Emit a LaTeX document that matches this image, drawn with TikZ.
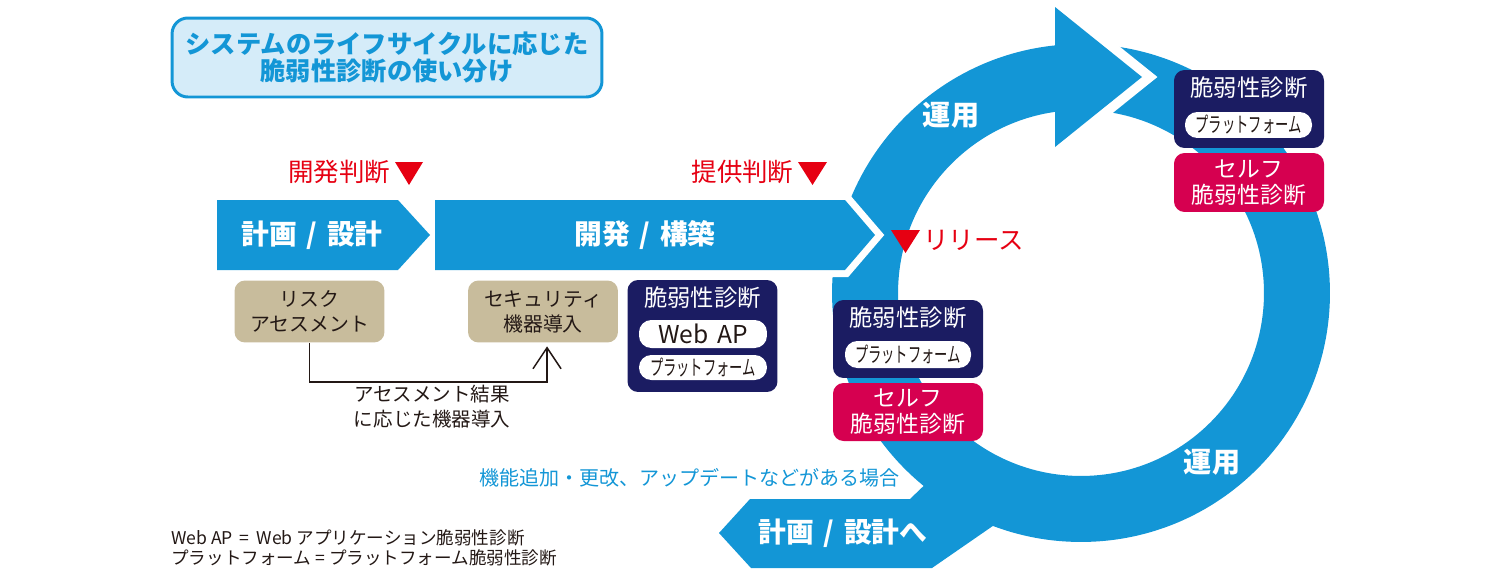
\documentclass[tikz,border=0pt]{standalone}
\usepackage{fontspec}
\setmainfont{Noto Sans CJK JP}
\usepackage{graphicx}
\usetikzlibrary{arrows.meta,positioning,calc}

\definecolor{CycleBlue}{RGB}{19,150,214}
\definecolor{TitleFill}{RGB}{213,236,249}
\definecolor{DiagNavy} {RGB}{27,28,98}
\definecolor{SelfRed}  {RGB}{214,0,80}
\definecolor{TaskTan}  {RGB}{200,188,156}
\definecolor{AlertRed} {RGB}{230,0,18}
\definecolor{InkGrey}  {RGB}{35,24,21}

\newcommand{\narrowtext}[1]{\scalebox{0.63}[1]{#1}}
\newcommand{\slashsep}{\hspace{0.35em}/\hspace{0.35em}}

\tikzset{
  titlebox/.style={draw=CycleBlue, line width=1.7pt, fill=TitleFill,
    rounded corners=9pt, minimum width=8.6cm, minimum height=1.58cm,
    align=center, text=CycleBlue, inner sep=0pt,
    font=\bfseries\fontsize{14.4}{15.6}\selectfont},
  alert/.style={text=AlertRed, inner sep=0pt,
    font=\fontsize{14.5}{16}\selectfont},
  phase/.style={text=white, inner sep=0pt,
    font=\bfseries\fontsize{15.8}{17}\selectfont},
  taskbox/.style={fill=TaskTan, rounded corners=6pt, minimum width=3cm,
    minimum height=1.24cm, align=center, text=InkGrey, inner sep=0pt,
    font=\fontsize{11.3}{14.2}\selectfont},
  diagbox/.style={fill=DiagNavy, rounded corners=6pt, minimum width=3cm,
    inner sep=0pt},
  diaghead/.style={text=white, inner sep=0pt,
    font=\fontsize{13.3}{15}\selectfont},
  pill/.style={fill=white, rounded corners=7pt, text=InkGrey, inner sep=0pt},
  selfbox/.style={fill=SelfRed, rounded corners=6pt, minimum width=3cm,
    minimum height=1.16cm, align=center, text=white, inner sep=0pt,
    font=\fontsize{13}{14.8}\selectfont},
  note/.style={text=InkGrey, align=center, inner sep=0pt,
    font=\fontsize{11.1}{14.2}\selectfont},
  link/.style={InkGrey, line width=0.85pt,
    -{Straight Barb[length=12pt,width=16pt,line width=0.85pt]}},
}

\begin{document}
\begin{tikzpicture}[x=0.02cm,y=-0.02cm]
  \useasboundingbox (0,0) rectangle (1500,568);
  % Title
  \node[titlebox] (title) at (387,57.5)
       {システムのライフサイクルに応じた\\脆弱性診断の使い分け};
  % Decision gates
  \node[alert] (devgate) at (339,171.5) {開発判断};
  \fill[AlertRed] (395,162) -- (423,162) -- (409,185) -- cycle;
  \node[alert] (relgate) at (742.5,171.5) {提供判断};
  \fill[AlertRed] (798,162) -- (827,162) -- (812.5,185) -- cycle;
  % Operation cycle (ring, head, exit arrow)
  \fill[CycleBlue,even odd rule] (1081,293) circle[radius=4.98cm]
       (1081,293) circle[radius=3.66cm];
  \draw[white,line width=11pt] (1055,7) -- (1142,77) -- (1055,147);
  \fill[CycleBlue] (1055,7) -- (1142,77) -- (1055,147) -- cycle;
  \fill[CycleBlue] (719,533) -- (750,499) -- (910,499) -- (935,475)
       -- (1000,521) -- (932,568) -- (751,568) -- cycle;
  \node[phase,font=\bfseries\fontsize{16}{18}\selectfont] (ops1) at (951,115) {運用};
  \node[phase,font=\bfseries\fontsize{16}{18}\selectfont] (ops2) at (1212,462) {運用};
  \node[phase] (back) at (843,533) {計画\slashsep 設計へ};
  % Phase chevrons
  \fill[CycleBlue,preaction={draw=white,line width=8pt}]
       (435,200) -- (845,200) -- (875,235) -- (845,270) -- (435,270) -- cycle;
  \fill[CycleBlue] (217,200) -- (398,200) -- (430,235) -- (398,270)
       -- (217,270) -- cycle;
  \node[phase] (plan) at (312,235) {計画\slashsep 設計};
  \node[phase] (build) at (645,235) {開発\slashsep 構築};
  % Release
  \fill[AlertRed] (891,230) -- (920,230) -- (905.5,253) -- cycle;
  \node[alert,anchor=west] (release) at (923,240) {リリース};
  % Tasks in planning / building
  \node[taskbox] (risk) at (309.5,311.5) {リスク\\アセスメント};
  \node[taskbox] (secu) at (543,311.5) {セキュリティ\\機器導入};
  \draw[link,shorten >=2pt] (risk.south) -- ++(0,39)
       -| ($(secu.south)+(4,0)$);
  \node[note] (result) at (432,407) {アセスメント結果\\に応じた機器導入};
  % Diagnosis at build time
  \node[diagbox,minimum height=2.24cm] (webdiag) at (702.5,336) {};
  \node[diaghead] (webhead) at (702.5,298) {脆弱性診断};
  \node[pill,minimum width=2.56cm,minimum height=0.56cm,
        font=\fontsize{14}{15}\selectfont] (webap) at (703,334) {Web\hspace{0.12em} AP};
  \node[pill,minimum width=2.56cm,minimum height=0.5cm,
        font=\fontsize{12}{13}\selectfont] (webplat) at (703,367.5)
       {\narrowtext{プラットフォーム}};
  % Diagnosis at release
  \node[diagbox,minimum height=1.56cm] (reldiag) at (908,339) {};
  \node[diaghead] (relhead) at (908,318) {脆弱性診断};
  \node[pill,minimum width=2.52cm,minimum height=0.54cm,
        font=\fontsize{12}{13}\selectfont] (relplat) at (908,354.5)
       {\narrowtext{プラットフォーム}};
  \node[selfbox] (relself) at (908,412) {セルフ\\脆弱性診断};
  % Diagnosis in operation
  \node[diagbox,minimum height=1.56cm] (opsdiag) at (1249,109) {};
  \node[diaghead] (opshead) at (1249,88) {脆弱性診断};
  \node[pill,minimum width=2.54cm,minimum height=0.52cm,
        font=\fontsize{12}{13}\selectfont] (opsplat) at (1248.5,125)
       {\narrowtext{プラットフォーム}};
  \node[selfbox,minimum height=1.18cm] (opsself) at (1249,182.5)
       {セルフ\\脆弱性診断};
  % Change note and legend
  \node[text=CycleBlue,inner sep=0pt,font=\fontsize{11.4}{13}\selectfont]
       (change) at (689.5,478) {機能追加・更改、アップデートなどがある場合};
  \node[anchor=west,align=left,text=InkGrey,inner sep=0pt,
        font=\fontsize{10}{11.3}\selectfont] (legend) at (171,548)
       {Web AP \,=\, Web アプリケーション脆弱性診断\\
        プラットフォーム = プラットフォーム脆弱性診断};
\end{tikzpicture}
\end{document}
